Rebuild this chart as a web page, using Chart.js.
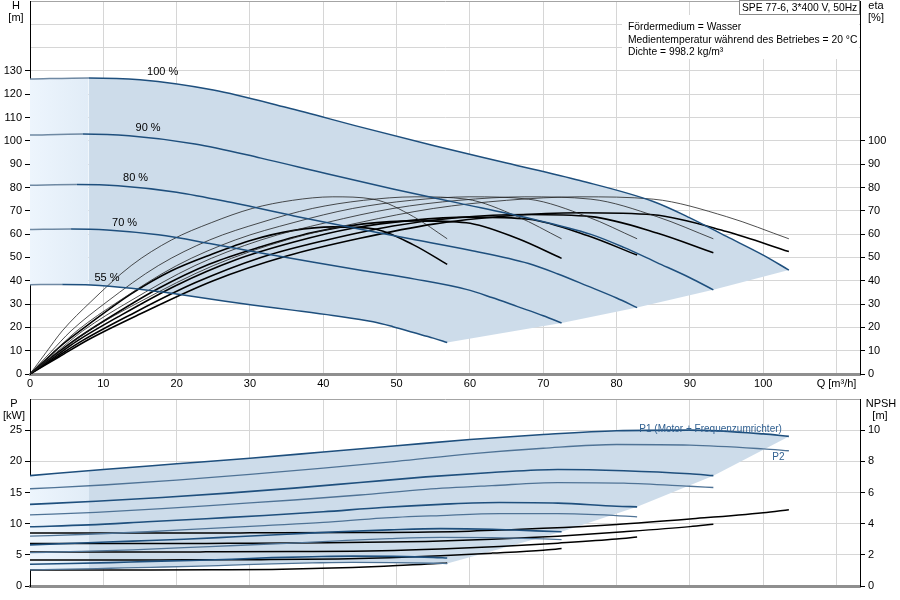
<!DOCTYPE html>
<html>
<head>
<meta charset="utf-8">
<script src="https://cdn.jsdelivr.net/npm/chart.js@4.4.1/dist/chart.umd.min.js"></script>
<style>
  body { margin: 0; background: #fff; }
  canvas { display: block; }
</style>
</head>
<body>
<canvas id="hChart" width="900" height="392"></canvas>
<canvas id="pChart" width="900" height="208"></canvas>
<script>
// ---- head curves H [m] per speed ----
const qH100 = [0, 8, 15, 25, 35, 45, 55, 65, 75, 85, 90, 95, 100, 103.5];
const h100  = [126.5, 127, 126.2, 121.8, 114.3, 106, 98, 90.5, 83, 74, 67, 59, 51, 44.6];
const qH90  = [0, 7.2, 13.5, 22.5, 31.5, 40.5, 49.5, 58.5, 67.5, 76.5, 81, 85.5, 90, 93.2];
const h90   = [102.5, 102.9, 102.2, 98.7, 92.6, 85.9, 79.4, 73.3, 67.2, 59.9, 54.3, 47.8, 41.3, 36.1];
const qH80  = [0, 6.4, 12, 20, 28, 36, 44, 52, 60, 68, 72, 76, 80, 82.8];
const h80   = [81.0, 81.3, 80.8, 78.0, 73.2, 67.8, 62.7, 57.9, 53.1, 47.4, 42.9, 37.8, 32.6, 28.5];
const qH70  = [0, 5.6, 10.5, 17.5, 24.5, 31.5, 38.5, 45.5, 52.5, 59.5, 63, 66.5, 70, 72.5];
const h70   = [62.0, 62.2, 61.8, 59.7, 56.0, 51.9, 48.0, 44.3, 40.7, 36.3, 32.8, 28.9, 25.0, 21.9];
const qH55  = [0, 4.4, 8.3, 13.8, 19.3, 24.8, 30.3, 35.8, 41.3, 46.8, 49.5, 52.3, 55, 56.9];
const h55   = [38.3, 38.4, 38.2, 36.8, 34.6, 32.1, 29.6, 27.4, 25.1, 22.4, 20.3, 17.8, 15.4, 13.5];

// ---- efficiency eta [%] ----
const qE100 = [0, 4, 8, 15, 25, 35, 45, 55, 65, 75, 85, 95, 103.5];
const qE90  = [0, 3.6, 7.2, 13.5, 22.5, 31.5, 40.5, 49.5, 58.5, 67.5, 76.5, 85.5, 93.2];
const qE80  = [0, 3.2, 6.4, 12, 20, 28, 36, 44, 52, 60, 68, 76, 82.8];
const qE70  = [0, 2.8, 5.6, 10.5, 17.5, 24.5, 31.5, 38.5, 45.5, 52.5, 59.5, 66.5, 72.5];
const qE55  = [0, 2.2, 4.4, 8.3, 13.8, 19.3, 24.8, 30.3, 35.8, 41.3, 46.8, 52.3, 56.9];
// thin curves (pump) read the same at every speed: peak ~76, end ~58
const etaPump = [0, 9.3, 18.5, 31, 46.5, 57.5, 65, 71, 74.5, 76, 75, 67.5, 58];
// thick curves (total)
const etaT100 = [0, 7.4, 14.8, 25.7, 40, 50.6, 58.2, 64.3, 67.8, 69.2, 68.3, 61.1, 52.5];
const etaT90  = [0, 7.2, 14.4, 25.1, 39.1, 50.0, 57.5, 63.5, 67.1, 68.4, 67.5, 60.5, 52.0];
const etaT80  = [0, 7.0, 14.1, 24.5, 38.1, 48.9, 56.6, 62.5, 65.9, 67.3, 66.4, 59.4, 51.0];
const etaT70  = [0, 6.8, 13.5, 23.6, 36.7, 47.2, 54.6, 60.7, 64.4, 65.7, 64.9, 58.1, 49.6];
const etaT55  = [0, 6.3, 12.6, 22.0, 34.4, 44.3, 51.4, 57.5, 61.5, 63.1, 62.3, 55.4, 47.0];

// ---- power P [kW] ----
const qP100 = [0, 10, 20, 30, 40, 50, 60, 70, 80, 90, 100, 103.5];
const p1_100 = [17.7, 18.7, 19.6, 20.5, 21.5, 22.5, 23.5, 24.3, 24.9, 25.0, 24.4, 24.0];
const p2_100 = [15.6, 16.2, 17.0, 17.9, 18.9, 20.0, 21.2, 22.1, 22.7, 22.6, 22.0, 21.7];
const qP90 = [0, 9, 18, 27, 36, 45, 54, 63, 72, 81, 90, 93.2];
const p1_90 = [13.1, 13.6, 14.2, 14.9, 15.7, 16.6, 17.5, 18.2, 18.7, 18.5, 18.0, 17.7];
const p2_90 = [11.4, 11.8, 12.4, 13.1, 13.8, 14.6, 15.5, 16.1, 16.6, 16.5, 16.0, 15.8];
const qP80 = [0, 8, 16, 24, 32, 40, 48, 56, 64, 72, 80, 82.8];
const p1_80 = [9.5, 9.8, 10.3, 10.8, 11.3, 11.9, 12.6, 13.1, 13.4, 13.3, 12.8, 12.7];
const p2_80 = [8.0, 8.3, 8.7, 9.2, 9.7, 10.2, 10.9, 11.3, 11.6, 11.6, 11.3, 11.1];
const qP70 = [0, 7, 14, 21, 28, 35, 42, 49, 56, 63, 70, 72.5];
const p1_70 = [6.6, 6.9, 7.2, 7.5, 7.9, 8.3, 8.7, 9.0, 9.2, 9.1, 8.8, 8.7];
const p2_70 = [5.35, 5.55, 5.8, 6.15, 6.5, 6.85, 7.25, 7.6, 7.8, 7.75, 7.55, 7.45];
const qP55 = [0, 5.5, 11, 16.5, 22, 27.5, 33, 38.5, 44, 49.5, 55, 56.9];
const p1_55 = [3.5, 3.6, 3.75, 3.95, 4.1, 4.3, 4.55, 4.7, 4.8, 4.75, 4.6, 4.5];
const p2_55 = [2.6, 2.7, 2.85, 3.0, 3.15, 3.35, 3.55, 3.7, 3.8, 3.75, 3.65, 3.6];

// ---- NPSH [m] ----
const qN100 = [0, 15, 30, 45, 60, 70, 80, 90, 100, 103.5];
const npsh100 = [3.4, 3.4, 3.41, 3.43, 3.52, 3.7, 3.95, 4.3, 4.7, 4.9];
const qN90 = [0, 13.5, 27, 40.5, 54, 63, 72, 81, 90, 93.2];
const npsh90 = [2.72, 2.72, 2.74, 2.77, 2.86, 3.0, 3.2, 3.48, 3.81, 3.97];
const qN80 = [0, 12, 24, 36, 48, 56, 64, 72, 80, 82.8];
const npsh80 = [2.18, 2.18, 2.19, 2.21, 2.26, 2.37, 2.53, 2.75, 3.01, 3.14];
const qN70 = [0, 10.5, 21, 31.5, 42, 49, 56, 63, 70, 72.5];
const npsh70 = [1.67, 1.67, 1.68, 1.69, 1.73, 1.81, 1.94, 2.11, 2.3, 2.4];
const qN55 = [0, 8.3, 16.5, 24.8, 33, 38.5, 44, 49.5, 55, 56.9];
const npsh55 = [1.03, 1.03, 1.03, 1.04, 1.06, 1.12, 1.19, 1.3, 1.42, 1.48];

const speedLabels = ['100 %', '90 %', '80 %', '70 %', '55 %'];
const qMinOperating = 8;

const FONT = "'Liberation Sans', Arial, sans-serif";
Chart.defaults.font.family = FONT;
Chart.defaults.font.size = 11;
Chart.defaults.color = '#000';

const BLUE = '#1e4f7d';
const BLUE_P2 = '#4f7396';
const NONE = 'rgba(0,0,0,0)';
const Q_MAX = 113.2;

function pts(q, v) { return q.map((x, i) => ({ x, y: v[i] })); }
function last(a) { return a[a.length - 1]; }

function regionFill(context) {
  const chart = context.chart;
  if (!chart.chartArea) return '#cddcea';
  const xs = chart.scales.x;
  const x0 = xs.getPixelForValue(0);
  const x1 = xs.getPixelForValue(last(qH100));
  const s = (xs.getPixelForValue(qMinOperating) - x0) / (x1 - x0);
  const g = chart.ctx.createLinearGradient(x0, 0, x1, 0);
  g.addColorStop(0, '#edf5fd');
  g.addColorStop(s, '#e1ecf7');
  g.addColorStop(s, '#cddcea');
  g.addColorStop(1, '#cddcea');
  return g;
}

function hLine(q, v, extra) {
  return Object.assign({
    data: pts(q, v), borderColor: BLUE, borderWidth: 1.5,
    segment: { borderColor: c => c.p1.parsed.x <= qMinOperating + 0.01 ? '#6f89a3' : BLUE },
    cubicInterpolationMode: 'monotone', fill: false, yAxisID: 'y'
  }, extra || {});
}
function line(q, v, color, width, axis) {
  return {
    data: pts(q, v), borderColor: color, borderWidth: width,
    cubicInterpolationMode: 'monotone', fill: false, yAxisID: axis
  };
}

function xScale(showTicks, height) {
  return {
    type: 'linear', min: 0, max: Q_MAX,
    afterFit: s => { s.height = height; s.paddingLeft = 0; s.paddingRight = 0; },
    ticks: {
      display: showTicks, stepSize: 10, includeBounds: false, autoSkip: false, maxRotation: 0, padding: 3,
      callback: v => v === 110 ? 'Q [m³/h]' : v
    },
    grid: { color: c => c.tick && c.tick.value === 0 ? NONE : '#d6d6d6', drawTicks: false },
    border: { color: '#8f8f8f', width: 3 }
  };
}
function yScale(pos, max, step, lastLabel, width, gridOn) {
  return {
    type: 'linear', position: pos, min: 0, max: max,
    afterFit: s => { s.width = width; s.paddingTop = 0; s.paddingBottom = 0; },
    ticks: { stepSize: step, padding: 3, autoSkip: false, callback: v => v <= lastLabel ? v : '' },
    grid: {
      drawOnChartArea: gridOn, tickLength: 5,
      color: c => c.tick && c.tick.value === max ? '#a4a4a4' : '#d6d6d6',
      tickColor: c => c.tick && c.tick.value <= lastLabel ? '#000' : NONE
    },
    border: { color: '#000', width: 1 }
  };
}

// ---------- top chart ----------
const hBoundary = pts(qH55, h55).concat(
  [[qH70, h70], [qH80, h80], [qH90, h90], [qH100, h100]].map(([q, v]) => ({ x: last(q), y: last(v) })));

const hDecor = {
  id: 'hDecor',
  beforeDatasetsDraw(chart) {
    const ctx = chart.ctx;
    ctx.save();
    ctx.fillStyle = '#fff';
    ctx.fillRect(622, 15, 237, 44);
    ctx.restore();
  },
  afterDraw(chart) {
    const { ctx, scales } = chart;
    const at = [[18.1, 129.7], [16.1, 105.7], [14.4, 84], [12.9, 64.7], [10.5, 41.1]];
    ctx.save();
    ctx.font = '11px ' + FONT;
    ctx.fillStyle = '#000';
    ctx.textAlign = 'center';
    ctx.textBaseline = 'middle';
    speedLabels.forEach((t, i) =>
      ctx.fillText(t, scales.x.getPixelForValue(at[i][0]), scales.y.getPixelForValue(at[i][1])));
    ctx.fillText('H', 16, 6);
    ctx.fillText('[m]', 16, 18);
    ctx.fillText('eta', 876, 6);
    ctx.fillText('[%]', 876, 18);
    ctx.font = '10.3px ' + FONT;
    ctx.textAlign = 'left';
    ctx.fillText('Fördermedium = Wasser', 628, 27);
    ctx.fillText('Medientemperatur während des Betriebes = 20 °C', 628, 40);
    ctx.fillText('Dichte = 998.2 kg/m³', 628, 52);
    ctx.fillStyle = '#fff';
    ctx.fillRect(740, 0, 120, 15);
    ctx.strokeStyle = '#8a8a8a';
    ctx.lineWidth = 1;
    ctx.strokeRect(739.5, 0.5, 120, 14);
    ctx.fillStyle = '#000';
    ctx.fillText('SPE 77-6, 3*400 V, 50Hz', 742, 8);
    ctx.restore();
  }
};

new Chart(document.getElementById('hChart'), {
  type: 'line',
  data: {
    datasets: [
      hLine(qH100, h100, { fill: 5, backgroundColor: regionFill }),
      hLine(qH90, h90),
      hLine(qH80, h80),
      hLine(qH70, h70),
      hLine(qH55, h55),
      { data: hBoundary, borderWidth: 0, borderColor: NONE, tension: 0, fill: false, yAxisID: 'y' },
      line(qE100, etaPump, '#222', 0.8, 'eta'),
      line(qE90, etaPump, '#222', 0.8, 'eta'),
      line(qE80, etaPump, '#222', 0.8, 'eta'),
      line(qE70, etaPump, '#222', 0.8, 'eta'),
      line(qE55, etaPump, '#222', 0.8, 'eta'),
      line(qE100, etaT100, '#000', 1.6, 'eta'),
      line(qE90, etaT90, '#000', 1.6, 'eta'),
      line(qE80, etaT80, '#000', 1.6, 'eta'),
      line(qE70, etaT70, '#000', 1.6, 'eta'),
      line(qE55, etaT55, '#000', 1.6, 'eta')
    ]
  },
  options: {
    responsive: false,
    animation: false,
    layout: { padding: { top: 1, left: 0, right: 0, bottom: 0 } },
    elements: { point: { radius: 0 } },
    plugins: { legend: { display: false }, tooltip: { enabled: false }, filler: { drawTime: 'beforeDatasetsDraw' } },
    scales: {
      x: xScale(true, 18),
      y: yScale('left', 160, 10, 130, 30, true),
      eta: yScale('right', 160, 10, 100, 40, false)
    }
  },
  plugins: [hDecor]
});

// ---------- bottom chart ----------
const pBoundary = pts(qP55, p2_55).concat(
  [[qP70, p1_70], [qP80, p1_80], [qP90, p1_90], [qP100, p1_100]].map(([q, v]) => ({ x: last(q), y: last(v) })));

const pDecor = {
  id: 'pDecor',
  afterDraw(chart) {
    const { ctx, scales } = chart;
    ctx.save();
    ctx.font = '11px ' + FONT;
    ctx.fillStyle = '#000';
    ctx.textAlign = 'center';
    ctx.textBaseline = 'middle';
    ctx.fillText('P', 14, 12);
    ctx.fillText('[kW]', 14, 24);
    ctx.fillText('NPSH', 881, 12);
    ctx.fillText('[m]', 880, 24);
    ctx.font = '10px ' + FONT;
    ctx.fillStyle = '#2f5f90';
    ctx.textAlign = 'left';
    ctx.fillText('P1 (Motor + Frequenzumrichter)', scales.x.getPixelForValue(83.1), scales.y.getPixelForValue(25.1));
    ctx.textAlign = 'right';
    ctx.fillText('P2', scales.x.getPixelForValue(102.9), scales.y.getPixelForValue(20.7));
    ctx.restore();
  }
};

new Chart(document.getElementById('pChart'), {
  type: 'line',
  data: {
    datasets: [
      Object.assign(line(qP100, p1_100, BLUE, 1.6, 'y'), { fill: 5, backgroundColor: regionFill }),
      line(qP90, p1_90, BLUE, 1.6, 'y'),
      line(qP80, p1_80, BLUE, 1.6, 'y'),
      line(qP70, p1_70, BLUE, 1.6, 'y'),
      line(qP55, p1_55, BLUE, 1.6, 'y'),
      { data: pBoundary, borderWidth: 0, borderColor: NONE, tension: 0, fill: false, yAxisID: 'y' },
      line(qP100, p2_100, BLUE_P2, 1.3, 'y'),
      line(qP90, p2_90, BLUE_P2, 1.3, 'y'),
      line(qP80, p2_80, BLUE_P2, 1.3, 'y'),
      line(qP70, p2_70, BLUE_P2, 1.3, 'y'),
      line(qP55, p2_55, BLUE_P2, 1.3, 'y'),
      line(qN100, npsh100, '#000', 1.5, 'npsh'),
      line(qN90, npsh90, '#000', 1.5, 'npsh'),
      line(qN80, npsh80, '#000', 1.5, 'npsh'),
      line(qN70, npsh70, '#000', 1.5, 'npsh'),
      line(qN55, npsh55, '#000', 1.5, 'npsh')
    ]
  },
  options: {
    responsive: false,
    animation: false,
    layout: { padding: { top: 7, left: 0, right: 0, bottom: 0 } },
    elements: { point: { radius: 0 } },
    plugins: { legend: { display: false }, tooltip: { enabled: false }, filler: { drawTime: 'beforeDatasetsDraw' } },
    scales: {
      x: xScale(false, 14),
      y: yScale('left', 30, 5, 25, 30, true),
      npsh: yScale('right', 12, 2, 10, 40, false)
    }
  },
  plugins: [pDecor]
});
</script>
</body>
</html>
